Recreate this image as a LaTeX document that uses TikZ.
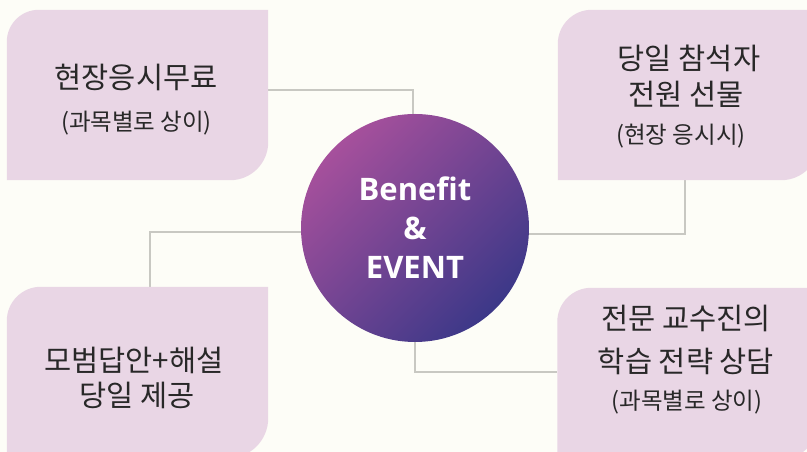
\documentclass[tikz,border=0pt]{standalone}
\usepackage{fontspec}
\newfontfamily\kr{Noto Sans CJK KR}
\newfontfamily\os{Open Sans}
\definecolor{bgc}{RGB}{253,253,247}
\definecolor{boxc}{RGB}{233,214,229}
\definecolor{linec}{RGB}{200,200,194}
\definecolor{txtc}{RGB}{40,40,40}
\definecolor{cA}{RGB}{166,80,156}
\definecolor{cB}{RGB}{122,62,150}
\definecolor{cC}{RGB}{60,56,136}
\begin{document}
\begin{tikzpicture}[x=1pt,y=1pt,
  area/.style={rectangle,inner sep=0pt,minimum width=261pt,minimum height=170pt},
  big/.style={text=txtc,inner sep=0pt,font=\kr\fontsize{29.5}{32}\selectfont},
  small/.style={text=txtc,inner sep=0pt,font=\kr\fontsize{23.5}{26}\selectfont},
  conn/.style={draw=linec,line width=2.8pt}]
\fill[bgc] (0,0) rectangle (807,452);
\useasboundingbox (0,0) rectangle (807,452);
% box areas
\node[area] (tl) at (137.5,357) {};
\node[area] (tr) at (688.5,357) {};
\node[area,minimum height=171pt] (bl) at (137.5,79.5) {};
\node[area,minimum height=172pt] (br) at (688,78) {};
% circle anchor
\node[circle,inner sep=0pt,minimum size=228pt] (c) at (415,224) {};
% connectors
\draw[conn] ([yshift=5pt]tl.east) -| ([xshift=-2pt]c.north);
\draw[conn] ([xshift=-3.5pt]tr.south) |- ([yshift=-6pt]c.east);
\draw[conn] ([yshift=-4pt]c.west) -| ([xshift=12.5pt]bl.north);
\draw[conn] (c.south) |- ([yshift=2pt]br.west);
% boxes
\fill[boxc] (tl.south west) -- ([yshift=-32pt]tl.north west) arc[start angle=180,end angle=90,radius=32pt]
  -- (tl.north east) -- ([yshift=38pt]tl.south east) arc[start angle=0,end angle=-90,radius=38pt] -- cycle;
\fill[boxc] (tr.south west) -- ([yshift=-34pt]tr.north west) arc[start angle=180,end angle=90,radius=34pt]
  -- (tr.north east) -- ([yshift=38pt]tr.south east) arc[start angle=0,end angle=-90,radius=38pt] -- cycle;
\fill[boxc] (bl.south west) -- ([yshift=-34pt]bl.north west) arc[start angle=180,end angle=90,radius=34pt]
  -- (bl.north east) -- ([yshift=40pt]bl.south east) arc[start angle=0,end angle=-90,radius=40pt] -- cycle;
\fill[boxc] (br.south west) -- ([yshift=-34pt]br.north west) arc[start angle=180,end angle=90,radius=34pt]
  -- (br.north east) -- ([yshift=40pt]br.south east) arc[start angle=0,end angle=-90,radius=40pt] -- cycle;
% circle on top
\node[circle,inner sep=0pt,minimum size=228pt,top color=cA,middle color=cB,bottom color=cC,shading angle=45,
  text=white,align=center,font=\os\bfseries\fontsize{31}{39}\selectfont] (ct) at (c.center) {Benefit\\\&\\EVENT};
% texts
\node[big] (t1) at (136,375) {현장응시무료};
\node[small] (t2) at (136.5,329) {(과목별로 상이)};
\node[big] (t3) at (689,394) {당일 참석자};
\node[big] (t4) at (686,358) {전원 선물};
\node[small] (t5) at (681,316) {(현장 응시시)};
\node[big] (t6) at (134,92) {모범답안+해설};
\node[big] (t7) at (137,57) {당일 제공};
\node[big] (t8) at (686,134) {전문 교수진의};
\node[big] (t9) at (686,91) {학습 전략 상담};
\node[small] (t10) at (687,50) {(과목별로 상이)};
\end{tikzpicture}
\end{document}
